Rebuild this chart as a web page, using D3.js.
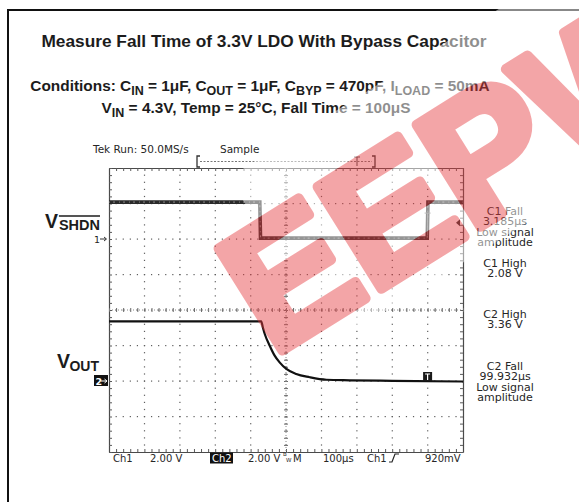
<!DOCTYPE html>
<html>
<head>
<meta charset="utf-8">
<script src="https://cdn.jsdelivr.net/npm/d3@7/dist/d3.min.js"></script>
<style>
	body { margin: 0; background: #fff; }
	svg { display: block; }
	.hd { font-family: 'Liberation Sans', Arial, sans-serif; font-weight: bold; fill: #1c1c1c; }
	.tek { font-family: 'DejaVu Sans', Verdana, sans-serif; font-size: 10.5px; fill: #262626; }
</style>
</head>
<body>
<div id="chart"><svg width="579" height="502"></svg></div>
<script>
// time base (us) and vertical divisions
var timeDomain = [-500, 500];
var divDomain = [-4, 4];
var voltsPerDiv = 2.0;
var ch1Offset = 2;
var ch2Offset = -2;

// Ch1 = V_SHDN
var ch1Time = [-500, -74, -72, 399, 401, 500];
var ch1Volts = [2.08, 2.08, 0.05, 0.05, 2.08, 2.08];

// Ch2 = V_OUT
var ch2Time = [-500, -70, -65, -60, -46, -32, -18, 1, 29, 67, 114, 180, 300, 500];
var ch2Volts = [3.36, 3.36, 2.99, 2.65, 1.99, 1.43, 1.05, 0.68, 0.39, 0.21, 0.07, 0.04, 0.01, -0.03];

var triggerLevel = 0.92;
var cursorTime = 400;

var titleText = 'Measure Fall Time of 3.3V LDO With Bypass Capacitor';
var readC1Fall = ['C1 Fall', '3.185\u00b5s', 'Low signal', 'amplitude'];
var readC1High = ['C1 High', '2.08 V'];
var readC2High = ['C2 High', '3.36 V'];
var readC2Fall = ['C2 Fall', '99.932\u00b5s', 'Low signal', 'amplitude'];
var statusText = ['Ch1', '2.00 V', 'Ch2', '2.00 V', 'M', '100\u00b5s', 'Ch1', '920mV'];

const Scope = {
	box: { left: 109, top: 168, right: 463, bottom: 452 },

	init: function() {
		const self = this;
		var svg = d3.select('#chart > svg');

		// page frame
		svg.append('line').attr('x1', 8).attr('x2', 8).attr('y1', 9).attr('y2', 502)
			.attr('stroke', '#111').attr('stroke-width', 2);
		svg.append('line').attr('x1', 7).attr('x2', 579).attr('y1', 10).attr('y2', 10)
			.attr('stroke', '#111').attr('stroke-width', 2);

		svg.append('g').attr('class', 'heading');
		svg.append('g').attr('class', 'grids');
		svg.append('g').attr('class', 'axes');
		svg.append('g').attr('class', 'plot');
		svg.append('g').attr('class', 'labels');
		svg.append('g').attr('class', 'watermark');
	},
	draw: function() {
		const self = this;
		var box = self.box;
		var svg = d3.select('#chart > svg');

		var xScale = d3.scaleLinear().domain(timeDomain).range([box.left, box.right]);
		var yScale = d3.scaleLinear().domain(divDomain).range([box.bottom, box.top]);
		var ch1 = function(v) { return yScale(ch1Offset + v / voltsPerDiv) };
		var ch2 = function(v) { return yScale(ch2Offset + v / voltsPerDiv) };

		// heading
		var head = svg.select('.heading');
		head.append('text').attr('class', 'hd')
			.attr('x', 264).attr('y', 47).attr('text-anchor', 'middle')
			.style('font-size', '17.3px').text(titleText);

		var subText = function(sel, parts) {
			var prev = 0;
			parts.forEach(function(p) {
				sel.append('tspan').text(p[0])
					.attr('dy', (p[1] - prev) * 4)
					.style('font-size', p[1] ? '12.5px' : '15.4px');
				prev = p[1];
			});
		};
		var cond = head.append('text').attr('class', 'hd')
			.attr('x', 260).attr('y', 91).attr('text-anchor', 'middle');
		subText(cond, [['Conditions: C', 0], ['IN', 1], [' = 1\u03bcF, C', 0], ['OUT', 1],
			[' = 1\u03bcF, C', 0], ['BYP', 1], [' = 470pF, I', 0], ['LOAD', 1], [' = 50mA', 0]]);
		var cond2 = head.append('text').attr('class', 'hd')
			.attr('x', 256).attr('y', 113).attr('text-anchor', 'middle');
		subText(cond2, [['V', 0], ['IN', 1], [' = 4.3V, Temp = 25\u00b0C, Fall Time = 100\u03bcS', 0]]);

		// dotted grid, 5 dots per division
		var grids = svg.select('.grids');
		var minorT = d3.range(-500, 501, 20);
		var minorD = d3.range(-4, 4.01, 0.2);
		var majorT = d3.range(-400, 401, 100);
		var majorD = d3.range(-3, 3.1, 1);
		majorT.forEach(function(t) {
			grids.selectAll(null).data(minorD.slice(1, -1)).enter()
				.append('rect')
				.attr('x', xScale(t) - 0.5).attr('y', function(d) { return yScale(d) - 0.5 })
				.attr('width', 1.2).attr('height', 1.2)
				.attr('fill', '#5e5e5e');
		});
		majorD.forEach(function(v) {
			grids.selectAll(null).data(minorT.slice(1, -1)).enter()
				.append('rect')
				.attr('x', function(d) { return xScale(d) - 0.5 }).attr('y', yScale(v) - 0.5)
				.attr('width', 1.2).attr('height', 1.2)
				.attr('fill', '#5e5e5e');
		});

		// frame and centre cross ticks via axes
		var axes = svg.select('.axes');
		var tickStyle = function(g) {
			g.select('.domain').attr('stroke', '#4a4a4a').attr('stroke-width', 1.2);
			g.selectAll('.tick line').attr('stroke', '#5a5a5a');
		};
		axes.append('g').attr('transform', 'translate(0,' + box.top + ')')
			.call(d3.axisBottom(xScale).tickValues(minorT).tickSize(3).tickSizeOuter(0).tickFormat(''))
			.call(tickStyle);
		axes.append('g').attr('transform', 'translate(0,' + box.bottom + ')')
			.call(d3.axisTop(xScale).tickValues(minorT).tickSize(3).tickSizeOuter(0).tickFormat(''))
			.call(tickStyle);
		axes.append('g').attr('transform', 'translate(' + box.left + ',0)')
			.call(d3.axisRight(yScale).tickValues(minorD).tickSize(3).tickSizeOuter(0).tickFormat(''))
			.call(tickStyle);
		axes.append('g').attr('transform', 'translate(' + box.right + ',0)')
			.call(d3.axisLeft(yScale).tickValues(minorD).tickSize(3).tickSizeOuter(0).tickFormat(''))
			.call(tickStyle);
		var cx = xScale(0), cy = yScale(0);
		axes.append('g').attr('transform', 'translate(0,' + (cy - 2) + ')')
			.call(d3.axisBottom(xScale).tickValues(minorT).tickSize(4).tickSizeOuter(0).tickFormat(''))
			.call(function(g) {
				g.select('.domain').remove();
				g.selectAll('.tick line').attr('stroke', '#6a6a6a');
			});
		axes.append('g').attr('transform', 'translate(' + (cx - 2) + ',0)')
			.call(d3.axisRight(yScale).tickValues(minorD).tickSize(4).tickSizeOuter(0).tickFormat(''))
			.call(function(g) {
				g.select('.domain').remove();
				g.selectAll('.tick line').attr('stroke', '#6a6a6a');
			});
		axes.append('line').attr('x1', box.left).attr('x2', box.right).attr('y1', cy).attr('y2', cy)
			.attr('stroke', '#8a8a8a').attr('stroke-dasharray', '1,2');
		axes.append('line').attr('x1', cx).attr('x2', cx).attr('y1', box.top).attr('y2', box.bottom)
			.attr('stroke', '#8a8a8a').attr('stroke-dasharray', '1,2');

		// traces
		var plot = svg.select('.plot');
		var line1 = d3.line()
			.x(function(d, i) { return xScale(ch1Time[i]) })
			.y(function(d) { return ch1(d) });
		var line2 = d3.line()
			.x(function(d, i) { return xScale(ch2Time[i]) })
			.y(function(d) { return ch2(d) })
			.curve(d3.curveMonotoneX);
		plot.append('path').datum(ch1Volts)
			.attr('d', line1)
			.attr('fill', 'none')
			.attr('stroke', '#2a2a2a')
			.attr('stroke-width', 3.6);
		plot.append('path').datum(ch1Volts)
			.attr('d', line1)
			.attr('fill', 'none')
			.attr('stroke', '#8a8a8a')
			.attr('stroke-width', 1)
			.attr('stroke-dasharray', '1,3,2,4');
		plot.append('path').datum(ch2Volts)
			.attr('d', line2)
			.attr('fill', 'none')
			.attr('stroke', '#111')
			.attr('stroke-width', 2.2);

		// cursor markers
		var xc = xScale(cursorTime);
		plot.append('path')
			.attr('d', 'M' + (xc - 3) + ',' + (ch1(2.08) + 11) + 'h6M' + xc + ',' + (ch1(2.08) + 11) + 'V' + ch1(0.2))
			.attr('stroke', '#777').attr('stroke-width', 1).attr('fill', 'none');
		plot.append('rect').attr('x', xc - 4.5).attr('y', ch2(0) - 9).attr('width', 9).attr('height', 9)
			.attr('fill', '#1a1a1a');
		plot.append('path')
			.attr('d', 'M' + (xc - 2.5) + ',' + (ch2(0) - 7) + 'h5M' + xc + ',' + (ch2(0) - 7) + 'v6')
			.attr('stroke', '#fff').attr('stroke-width', 1.2);
		// trigger level arrow
		var yt = ch1(triggerLevel);
		plot.append('path')
			.attr('d', 'M' + (box.right - 7) + ',' + yt + 'l4,-3.5v7z')
			.attr('fill', '#333');

		// record window bracket
		var labels = svg.select('.labels');
		labels.append('path')
			.attr('d', 'M200,156h-3v11h3M372,156h3v11h-3')
			.attr('stroke', '#333').attr('stroke-width', 1.3).attr('fill', 'none');
		labels.append('line').attr('x1', 200).attr('x2', 372).attr('y1', 161.5).attr('y2', 161.5)
			.attr('stroke', '#777').attr('stroke-dasharray', '2,1.5');
		labels.append('path').attr('d', 'M354,157h6M357,157v9')
			.attr('stroke', '#555').attr('stroke-width', 1.1);

		// scope texts
		labels.append('text').attr('class', 'tek').attr('x', 93).attr('y', 153).text('Tek Run: 50.0MS/s');
		labels.append('text').attr('class', 'tek').attr('x', 220).attr('y', 153).text('Sample');

		var groups = [[readC1Fall, 215], [readC1High, 267], [readC2High, 318], [readC2Fall, 370]];
		groups.forEach(function(g) {
			labels.selectAll(null).data(g[0]).enter()
				.append('text').attr('class', 'tek')
				.attr('x', 505).attr('y', function(d, i) { return g[1] + i * 10.4 })
				.attr('text-anchor', 'middle')
				.style('font-size', '11px')
				.text(function(d) { return d });
		});

		// status bar
		var sx = [113, 150, 212, 248, 293, 323, 367, 425];
		labels.append('rect').attr('x', 210).attr('y', 452.5).attr('width', 23).attr('height', 11).attr('fill', '#111');
		labels.selectAll(null).data(statusText).enter()
			.append('text').attr('class', 'tek')
			.attr('x', function(d, i) { return sx[i] }).attr('y', 462)
			.style('font-size', '10px')
			.style('fill', function(d, i) { return i == 2 ? '#fff' : '#262626' })
			.text(function(d) { return d });
		labels.append('text').attr('class', 'tek').attr('x', 283).attr('y', 456).style('font-size', '5.5px').text('B');
		labels.append('text').attr('class', 'tek').attr('x', 286).attr('y', 462).style('font-size', '5.5px').text('W');
		labels.append('path').attr('d', 'M389,462h3l3,-8h4')
			.attr('stroke', '#262626').attr('stroke-width', 1.2).attr('fill', 'none');

		// channel labels
		labels.append('text').attr('class', 'hd').attr('x', 58).attr('y', 228)
			.attr('text-anchor', 'end').style('font-size', '19.5px').text('V');
		var shdn = labels.append('text').attr('class', 'hd').attr('x', 100).attr('y', 230)
			.attr('text-anchor', 'end').style('font-size', '14.5px').text('SHDN');
		var w = shdn.node().getComputedTextLength();
		labels.append('line').attr('x1', 100 - w).attr('x2', 100).attr('y1', 216).attr('y2', 216)
			.attr('stroke', '#1c1c1c').attr('stroke-width', 1.3);
		labels.append('text').attr('class', 'hd').attr('x', 70).attr('y', 368)
			.attr('text-anchor', 'end').style('font-size', '19.5px').text('V');
		labels.append('text').attr('class', 'hd').attr('x', 99).attr('y', 371)
			.attr('text-anchor', 'end').style('font-size', '14px').text('OUT');

		var g1 = ch1(0), g2 = ch2(0);
		labels.append('text').attr('class', 'tek').attr('x', 100).attr('y', g1 + 3.5)
			.attr('text-anchor', 'end').style('font-size', '9.5px').text('1');
		labels.append('path').attr('d', 'M100,' + g1 + 'h6M104,' + (g1 - 2) + 'l2.5,2l-2.5,2')
			.attr('stroke', '#333').attr('stroke-width', 1).attr('fill', 'none');
		labels.append('rect').attr('x', 94).attr('y', g2 - 6).attr('width', 14).attr('height', 11).attr('fill', '#111');
		labels.append('text').attr('class', 'tek').attr('x', 95.5).attr('y', g2 + 3.5)
			.style('font-size', '9.5px').style('fill', '#fff').style('font-weight', 'bold').text('2');
		labels.append('path').attr('d', 'M101,' + g2 + 'h6M104.5,' + (g2 - 2) + 'l2.5,2l-2.5,2')
			.attr('stroke', '#fff').attr('stroke-width', 1).attr('fill', 'none');

		// EEPW watermark over everything: whitish band, then pink letters
		var wmFont = function(sel) {
			return sel.attr('x', 42).attr('y', 447)
				.style('font-family', 'Liberation Sans, Arial, sans-serif').style('font-weight', 'bold')
				.style('font-size', '175px').attr('stroke-width', 10).attr('stroke-linejoin', 'round')
				.text('EEPW');
		};
		var wm = svg.select('.watermark').attr('transform', 'rotate(-32)');
		var mask = wm.append('mask').attr('id', 'wmMask').attr('maskUnits', 'userSpaceOnUse')
			.attr('x', -300).attr('y', 0).attr('width', 1400).attr('height', 900);
		mask.append('rect').attr('x', -300).attr('y', 0).attr('width', 1400).attr('height', 900).attr('fill', '#fff');
		mask.append('text').call(wmFont).attr('fill', '#000').attr('stroke', '#000');
		wm.append('rect').attr('x', 100).attr('y', 272).attr('width', 800).attr('height', 196)
			.attr('fill', '#fff').attr('opacity', 0.5).attr('mask', 'url(#wmMask)');
		wm.append('text').call(wmFont)
			.attr('fill', 'rgb(230,58,62)').attr('stroke', 'rgb(230,58,62)').attr('opacity', 0.45);
	}
}

Scope.init();
Scope.draw();
</script>
</body>
</html>
